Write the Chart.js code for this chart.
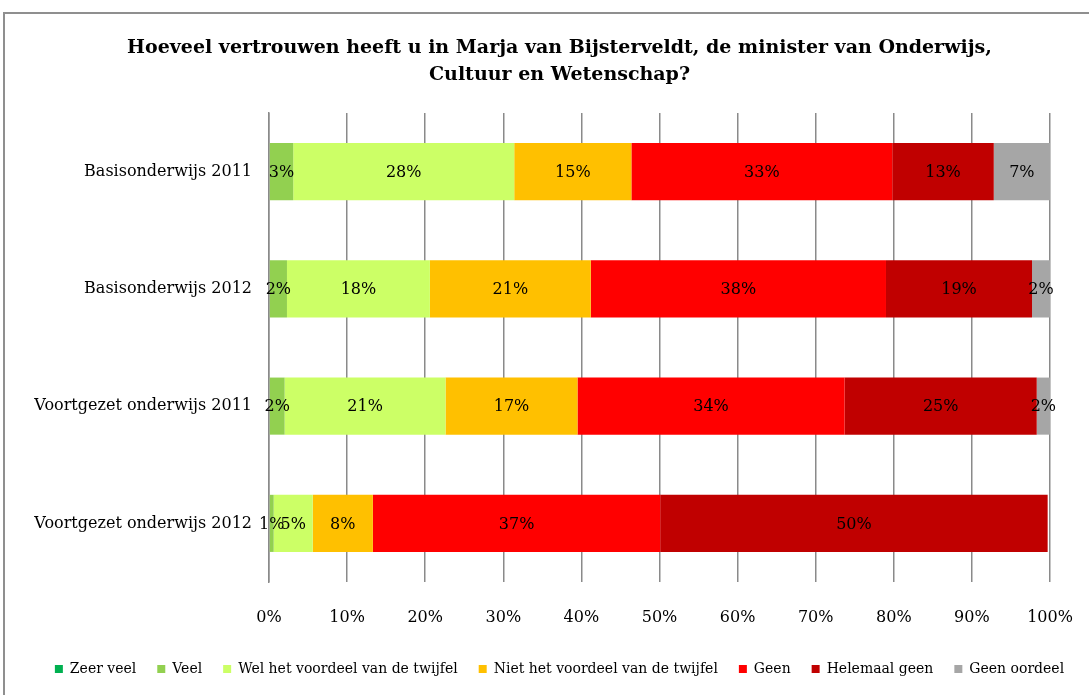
<!DOCTYPE html>
<html>
<head>
<meta charset="utf-8">
<script src="https://cdn.jsdelivr.net/npm/chart.js@4.4.1/dist/chart.umd.min.js"></script>
<style>
  html, body { margin: 0; padding: 0; background: #fff; }
  body { width: 1089px; height: 695px; overflow: hidden; position: relative; }
  #frame { position: absolute; left: 3px; top: 12px; width: 1200px; height: 800px; border: 2px solid #8f8f8f; box-sizing: border-box; }
  #wrap { position: absolute; left: 0; top: 0; width: 1089px; height: 695px; }
</style>
</head>
<body>
<div id="frame"></div>
<div id="wrap"><canvas id="chart"></canvas></div>
<script>
// categories (top to bottom)
const categories = ['Basisonderwijs 2011', 'Basisonderwijs 2012', 'Voortgezet onderwijs 2011', 'Voortgezet onderwijs 2012'];
const seriesNames = ['Zeer veel', 'Veel', 'Wel het voordeel van de twijfel', 'Niet het voordeel van de twijfel', 'Geen', 'Helemaal geen', 'Geen oordeel'];
const seriesColors = ['#00B050', '#92D050', '#CCFF66', '#FFC000', '#FF0000', '#C00000', '#A6A6A6'];

// percentages
const zeerVeel = [0, 0, 0, 0];
const veel = [3.1, 2.3, 2.0, 0.6];
const welVoordeel = [28.3, 18.3, 20.6, 5.0];
const nietVoordeel = [15.0, 20.6, 16.9, 7.7];
const geen = [33.4, 37.8, 34.2, 36.8];
const helemaalGeen = [13.0, 18.7, 24.6, 49.6];
const geenOordeel = [7.2, 2.3, 1.7, 0];

const titleLines = ['Hoeveel vertrouwen heeft u in Marja van Bijsterveldt, de minister van Onderwijs,', 'Cultuur en Wetenschap?'];

const FONT = '"DejaVu Serif", serif';
const GRID = '#8a8a8a';
const LEFT_PAD = 30;

const allSeries = [zeerVeel, veel, welVoordeel, nietVoordeel, geen, helemaalGeen, geenOordeel];

// centred % label on every segment
const segmentLabels = {
  id: 'segmentLabels',
  afterDatasetsDraw(chart) {
    const ctx = chart.ctx;
    ctx.save();
    ctx.font = '16px ' + FONT;
    ctx.fillStyle = '#000';
    ctx.textAlign = 'center';
    ctx.textBaseline = 'middle';
    chart.data.datasets.forEach((ds, i) => {
      const meta = chart.getDatasetMeta(i);
      meta.data.forEach((bar, j) => {
        const v = ds.data[j];
        if (!v) return;
        const p = bar.getProps(['x', 'y', 'base'], true);
        ctx.fillText(Math.round(v) + '%', (p.x + p.base) / 2, p.y + 1);
      });
    });
    ctx.restore();
  },
};

new Chart(document.getElementById('chart'), {
  type: 'bar',
  data: {
    labels: categories,
    datasets: allSeries.map((d, i) => ({
      label: seriesNames[i],
      data: d,
      backgroundColor: seriesColors[i],
      borderWidth: 0,
      barPercentage: 0.487,
      categoryPercentage: 1,
    })),
  },
  options: {
    indexAxis: 'y',
    responsive: true,
    maintainAspectRatio: false,
    animation: false,
    layout: { padding: { top: 0, left: LEFT_PAD, right: 0, bottom: 9 } },
    scales: {
      x: {
        stacked: true,
        min: 0,
        max: 100,
        ticks: {
          stepSize: 10,
          callback: (v) => v + '%',
          color: '#000',
          // tall line height pushes the labels down without widening the right margin
          font: { family: FONT, size: 16, lineHeight: 2.6 },
          padding: 15,
          maxRotation: 0,
        },
        grid: { color: GRID, lineWidth: 1.5, drawTicks: false },
        border: { display: false },
        afterFit(s) { s.height = 59; },
      },
      y: {
        stacked: true,
        ticks: { color: '#000', font: { family: FONT, size: 16 }, padding: 17 },
        grid: { display: false, drawTicks: false },
        border: { display: true, color: GRID, width: 1.5 },
        afterFit(s) { s.width = 269 - LEFT_PAD; },
      },
      // empty right-hand margin so the legend can stay wide
      yRight: {
        type: 'category',
        axis: 'y',
        position: 'right',
        ticks: { display: false },
        grid: { display: false, drawTicks: false },
        border: { display: false },
        afterFit(s) { s.width = 39; },
      },
    },
    plugins: {
      title: {
        display: true,
        text: titleLines,
        color: '#000',
        font: { family: FONT, size: 19, weight: 'bold', lineHeight: 1.42 },
        padding: { top: 35, bottom: 24 },
      },
      legend: {
        position: 'bottom',
        labels: {
          color: '#000',
          font: { family: FONT, size: 14 },
          boxWidth: 8,
          boxHeight: 8,
          padding: 21,
        },
      },
      tooltip: { enabled: false },
    },
  },
  plugins: [segmentLabels],
});
</script>
</body>
</html>
